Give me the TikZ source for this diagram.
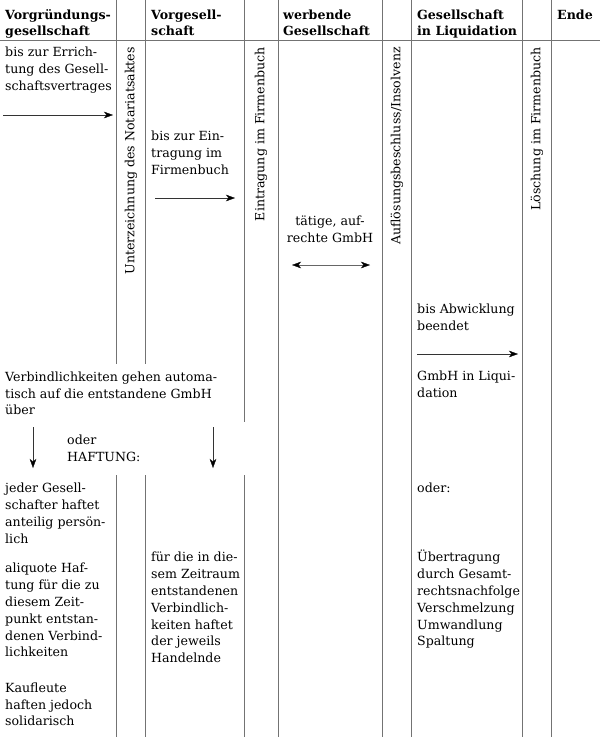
\documentclass[tikz,border=0pt]{standalone}
\usepackage{fontspec}
\setmainfont{DejaVu Serif}
\usetikzlibrary{arrows.meta}
\newcommand\fs{\rule{0pt}{12pt}}
\begin{document}
\begin{tikzpicture}[x=1pt,y=-1pt,
  sep/.style={draw=black!55, line width=1pt},
  txt/.style={anchor=north west, inner sep=0pt, align=left,
    font=\fontsize{12.6}{16.8}\selectfont},
  ctxt/.style={txt, anchor=north, align=center},
  head/.style={txt, font=\fontsize{12.6}{16.2}\selectfont\bfseries},
  rot/.style={anchor=east, rotate=90, inner sep=0pt, font=\fontsize{12.6}{16.8}\selectfont},
  tip/.tip={Stealth[length=9pt,width=6.5pt,inset=2.5pt,color=black,line width=0.3pt]},
  arr/.style={-tip, line width=0.9pt, draw=black!80},
  darr/.style={tip-tip, line width=0.9pt, draw=black!60}
]
\useasboundingbox (0,0) rectangle (600,737);

% table lines
\draw[sep] (0,40) -- (600,40);
\draw[sep] (116.5,0) -- (116.5,364) (116.5,475) -- (116.5,737);
\draw[sep] (145.3,0) -- (145.3,364) (145.3,475) -- (145.3,737);
\draw[sep] (244.5,0) -- (244.5,422) (244.5,475) -- (244.5,737);
\draw[sep] (278,0) -- (278,737);
\draw[sep] (382.7,0) -- (382.7,737);
\draw[sep] (411.7,0) -- (411.7,737);
\draw[sep] (522.7,0) -- (522.7,737);
\draw[sep] (551.7,0) -- (551.7,737);

% headers (first baseline = y + 12)
\node[head] (h1) at (5,7) {\fs Vorgründungs-\\gesellschaft};
\node[head] (h2) at (151,7) {\fs Vorgesell-\\schaft};
\node[head] (h3) at (283,7) {\fs werbende\\Gesellschaft};
\node[head] (h4) at (417,7) {\fs Gesellschaft\\in Liquidation};
\node[head] (h5) at (557,7) {\fs Ende};

% rotated events
\node[rot] (e1) at (131,47) {Unterzeichnung des Notariatsaktes};
\node[rot] (e2) at (261,47) {Eintragung im Firmenbuch};
\node[rot] (e3) at (397,47) {Auflösungsbeschluss/Insolvenz};
\node[rot] (e4) at (537,47) {Löschung im Firmenbuch};

% texts (first baseline = y + 12)
\node[txt] (t1) at (5,44.5) {\fs bis zur Errich-\\tung des Gesell-\\schaftsvertrages};
\node[txt] (t2) at (151,128.3) {\fs bis zur Ein-\\tragung im\\Firmenbuch};
\node[ctxt] (t3) at (330,213) {\fs tätige, auf-\\rechte GmbH};
\node[txt] (t4) at (417,301) {\fs bis Abwicklung\\beendet};
\node[txt] (t5) at (417,368) {\fs GmbH in Liqui-\\dation};
\node[txt] (t6) at (5,369) {\fs Verbindlichkeiten gehen automa-\\tisch auf die entstandene GmbH\\über};
\node[txt] (t7) at (67,432.6) {\fs oder\\HAFTUNG:};
\node[txt] (t8) at (5,480.6) {\fs jeder Gesell-\\schafter haftet\\anteilig persön-\\lich};
\node[txt] (t9) at (5,560.6) {\fs aliquote Haf-\\tung für die zu\\diesem Zeit-\\punkt entstan-\\denen Verbind-\\lichkeiten};
\node[txt] (t10) at (5,680) {\fs Kaufleute\\haften jedoch\\solidarisch};
\node[txt] (t11) at (151,549.6) {\fs für die in die-\\sem Zeitraum\\entstandenen\\Verbindlich-\\keiten haftet\\der jeweils\\Handelnde};
\node[txt] (t12) at (417,480.6) {\fs oder:};
\node[txt] (t13) at (417,549.6) {\fs Übertragung\\durch Gesamt-\\rechtsnachfolge\\Verschmelzung\\Umwandlung\\Spaltung};

% arrows
\coordinate (a1s) at (3,115);   \coordinate (a1e) at (113,115);
\coordinate (a2s) at (155,198); \coordinate (a2e) at (235,198);
\coordinate (a3s) at (292,265); \coordinate (a3e) at (370,265);
\coordinate (a4s) at (417,354); \coordinate (a4e) at (518,354);
\coordinate (a5s) at (33,427);  \coordinate (a5e) at (33,468);
\coordinate (a6s) at (213,427); \coordinate (a6e) at (213,468);
\draw[arr] (a1s) -- (a1e);
\draw[arr] (a2s) -- (a2e);
\draw[darr] (a3s) -- (a3e);
\draw[arr] (a4s) -- (a4e);
\draw[arr] (a5s) -- (a5e);
\draw[arr] (a6s) -- (a6e);
\end{tikzpicture}
\end{document}
